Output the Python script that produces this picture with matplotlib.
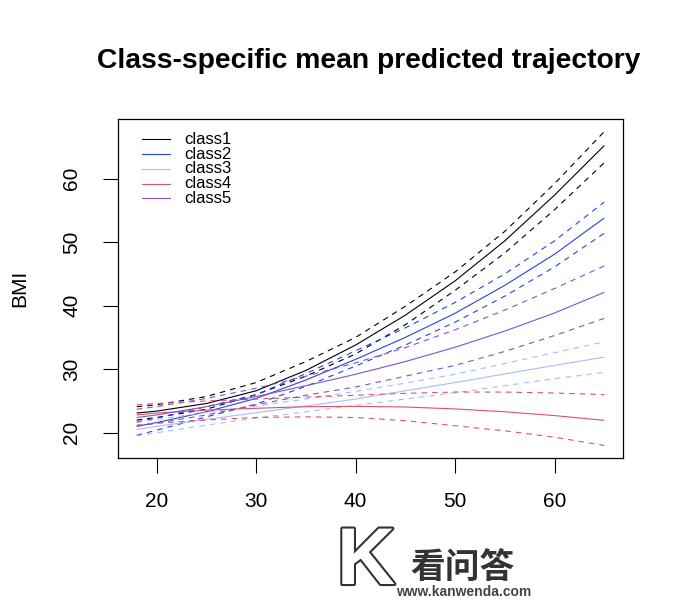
import matplotlib
matplotlib.use("Agg")
import matplotlib.pyplot as plt
import matplotlib.patheffects as pe
from matplotlib.lines import Line2D

plt.rcParams['font.family'] = ['Liberation Sans', 'DejaVu Sans']

ages = [18, 20, 25, 30, 35, 40, 45, 50, 55, 60, 65]

class1_mean = [23.1, 23.4, 24.6, 26.6, 29.8, 33.8, 38.5, 43.9, 50.2, 57.4, 65.2]
class1_upper = [24.1, 24.4, 25.7, 27.9, 31.2, 35.0, 39.9, 45.3, 51.7, 59.2, 67.4]
class1_lower = [22.0, 22.4, 23.7, 26.0, 28.9, 32.4, 37.0, 42.4, 48.3, 55.1, 62.5]

class2_mean = [21.0, 21.6, 23.3, 25.4, 28.3, 31.55, 35.0, 38.8, 43.2, 48.1, 53.8]
class2_upper = [21.7, 22.3, 24.1, 26.0, 29.3, 32.9, 36.5, 40.5, 45.0, 50.2, 56.3]
class2_lower = [19.6, 20.4, 22.5, 24.5, 27.3, 30.5, 33.8, 37.4, 41.5, 46.1, 51.4]

class3_mean = [20.5, 21.0, 22.1, 23.15, 24.2, 25.3, 26.6, 27.9, 29.25, 30.6, 31.9]
class3_upper = [21.6, 22.1, 23.2, 24.2, 25.3, 26.5, 27.8, 29.2, 30.9, 32.6, 34.3]
class3_lower = [19.5, 20.0, 21.2, 22.3, 23.3, 24.3, 25.3, 26.3, 27.4, 28.5, 29.5]

class4_mean = [22.8, 23.1, 23.55, 23.85, 24.1, 24.15, 24.05, 23.75, 23.3, 22.7, 21.95]
class4_upper = [24.4, 24.6, 25.0, 25.3, 25.6, 25.9, 26.2, 26.4, 26.4, 26.25, 26.0]
class4_lower = [21.2, 21.5, 22.0, 22.4, 22.5, 22.4, 21.9, 21.1, 20.3, 19.3, 18.0]

class5_mean = [22.4, 22.8, 24.1, 25.7, 27.4, 29.2, 31.2, 33.45, 36.0, 38.85, 42.1]
class5_upper = [23.7, 24.1, 25.4, 27.0, 28.9, 31.0, 33.4, 36.2, 39.3, 42.7, 46.25]
class5_lower = [21.05, 21.5, 22.8, 24.4, 25.9, 27.2, 28.9, 30.6, 32.8, 35.3, 38.0]

class_names = ["class1", "class2", "class3", "class4", "class5"]
class_colors = ["#000000", "#2443E6", "#A6BCFF", "#E0506B", "#8650CC"]

x_ticks = [20, 30, 40, 50, 60]
y_ticks = [20, 30, 40, 50, 60]

means = [class1_mean, class2_mean, class3_mean, class4_mean, class5_mean]
uppers = [class1_upper, class2_upper, class3_upper, class4_upper, class5_upper]
lowers = [class1_lower, class2_lower, class3_lower, class4_lower, class5_lower]

fig = plt.figure(figsize=(6.84, 6.05), dpi=100)
ax = fig.add_axes([118/684, 1-458/605, 505/684, 339/605])

lw = 0.8
dash = (0, (5.0, 4.5))
for m, u, l, c in zip(means, uppers, lowers, class_colors):
    ax.plot(ages, m, color=c, lw=lw, solid_capstyle='butt')
    ax.plot(ages, u, color=c, lw=lw, linestyle=dash)
    ax.plot(ages, l, color=c, lw=lw, linestyle=dash)

xmin, xmax = min(ages), max(ages)
allv = [v for s in means + uppers + lowers for v in s]
ymin, ymax = min(allv), max(allv)
dx = (xmax - xmin) * 0.04
dy = (ymax - ymin) * 0.04
ax.set_xlim(xmin - dx, xmax + dx)
ax.set_ylim(ymin - dy, ymax + dy)

ax.set_xticks(x_ticks)
ax.set_yticks(y_ticks)
ax.tick_params(direction='out', length=10.5, width=0.8, labelsize=15, color='black')
ax.tick_params(axis='x', pad=14)
ax.tick_params(axis='y', pad=16)
for lab in ax.get_yticklabels():
    lab.set_rotation(90)
    lab.set_va('center')
for sp in ax.spines.values():
    sp.set_linewidth(0.9)

ax.set_ylabel("BMI", fontsize=15, labelpad=24)

# legend (R style, no box)
row_y = [139, 154, 168.7, 183.5, 198.3]
for name, c, py in zip(class_names, class_colors, row_y):
    yf = (458 - py) / 339
    ax.add_line(Line2D([(142-118)/505, (170-118)/505], [yf, yf], transform=ax.transAxes,
                       color=c, lw=lw))
    ax.text((184-118)/505, yf, name, transform=ax.transAxes, fontsize=12,
            va='center', ha='left')

fig.text(369/684, 1-61/605, "Class-specific mean predicted trajectory",
         fontsize=20.3, fontweight='bold', ha='center', va='center')

# watermark
fig.text(366/684, 1-563/605, "K", fontsize=58, fontweight='bold', ha='center', va='center',
         color='white', path_effects=[pe.withStroke(linewidth=3, foreground='#333333')])
fig.text(462/684, 1-567/605, "看问答", fontsize=25, fontweight='bold', ha='center', va='center',
         color='#333333', family=['Noto Sans CJK SC', 'DejaVu Sans'])
fig.text(464/684, 1-592/605, "www.kanwenda.com", fontsize=10, fontweight='bold',
         ha='center', va='center', color='#444444')

fig.savefig("out.png", dpi=100)
